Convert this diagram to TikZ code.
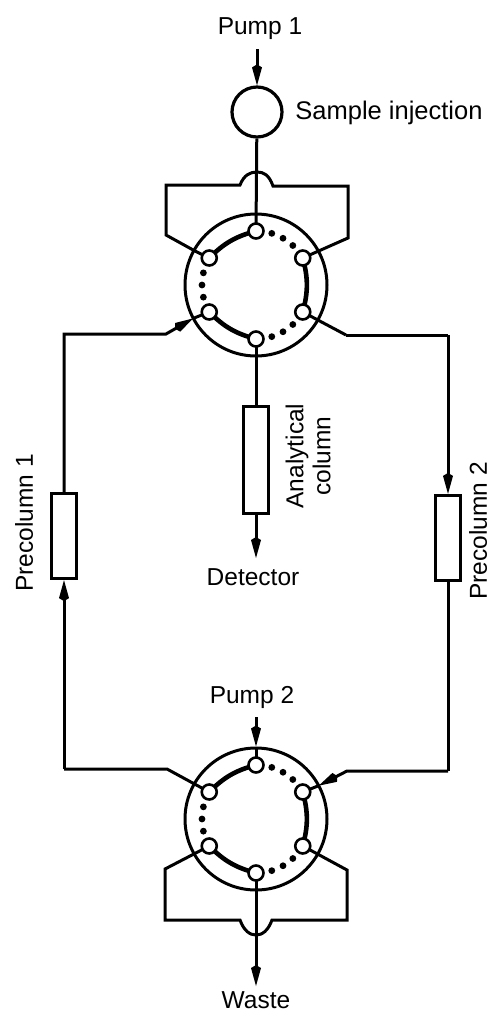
\documentclass[tikz,border=0pt]{standalone}
\usepackage{fontspec}
\setmainfont{Liberation Sans}
\usetikzlibrary{positioning,arrows.meta,calc}

\begin{document}
\begin{tikzpicture}[
    x=1pt,
    y=-1pt,
    font=\fontsize{24.5}{27}\selectfont,
    >={Kite[length=21pt,width=10pt,inset=3pt]},
    wire/.style={
        line width=3pt,
        line join=miter
    },
    flow/.style={
        wire,
        ->
    },
    valve/.style={
        draw,
        circle,
        minimum size=142pt,
        inner sep=0pt,
        line width=3pt
    },
    port/.style={
        draw,
        circle,
        fill=white,
        minimum size=15pt,
        inner sep=0pt,
        line width=2.6pt
    },
    passage/.style={
        line width=4.6pt
    },
    column/.style={
        draw,
        fill=white,
        minimum width=25pt,
        inner sep=0pt,
        line width=3.2pt
    },
    label/.style={
        inner sep=0pt
    }
]

\useasboundingbox (0,0) rectangle (491,1012);

% Sample loop and labels
\node[draw, circle, minimum size=50pt, inner sep=0pt, line width=3.2pt] (inject) at (257,112) {};
\node[label] (pump1) at (260,29) {Pump 1};
\node[label, font=\fontsize{25.5}{27}\selectfont] (sample) at (389,113) {Sample injection};
\node[label] (pump2) at (252,697) {Pump 2};
\node[label] (detector) at (253,577) {Detector};
\node[label] (waste) at (256,1000) {Waste};

% Columns
\node[column, minimum height=85pt] (pre1) at (64,536) {};
\node[column, minimum height=85pt] (pre2) at (448,538) {};
\node[column, minimum height=107pt] (analytical) at (256,460) {};
\node[label, rotate=90] (pre1label) at (24,523) {Precolumn 1};
\node[label, rotate=90] (pre2label) at (478,531) {Precolumn 2};
\node[label, rotate=90, align=center] (anlabel) at (308,456) {Analytical\\column};

% Free ends and corners of the tubing
\coordinate (pump1end) at (257,49);
\coordinate (detend) at (256,558);
\coordinate (pump2end) at (256,717);
\coordinate (wasteend) at (256,986);
\coordinate (leftA2) at (166,334);
\coordinate (leftB) at (64,769);
\coordinate (leftB2) at (167,769);
\coordinate (rightA) at (448,335);
\coordinate (rightA2) at (346,335);
\coordinate (rightB) at (448,771);
\coordinate (rightB2) at (347,771);

% Two six-port valves
\foreach \v/\cy in {top/285, bot/819} {
    \node[valve] (\v) at (256,\cy) {};
    % Ports
    \foreach \i/\a in {1/-90, 2/-150, 3/150, 4/90, 5/30, 6/-30} {
        \coordinate (\v c\i) at ([shift={(256,\cy)}]\a:54);
    }
    % Closed positions
    \foreach \a in {-73,-60,-47,167,180,193,47,60,73} {
        \fill ([shift={(256,\cy)}]\a:54) circle (3.4);
    }
    % Open positions
    \draw[passage] (\v c1) to[bend right=15] (\v c2);
    \draw[passage] (\v c3) to[bend right=15] (\v c4);
    \draw[passage] (\v c5) to[bend right=15] (\v c6);
}
\coordinate (topring) at ([shift={(256,285)}]152:71);
\coordinate (botring) at ([shift={(256,819)}]-28:71);

% Upper bypass
\coordinate (a1) at (195,251);
\coordinate (a2) at (166,235);
\coordinate (a3) at (166,185);
\coordinate (a4) at (240,185);
\coordinate (a5) at (273,186);
\coordinate (a6) at (348,186);
\coordinate (a7) at (348,238);
\draw[wire] (topc2) -- (a1) -- (a2) -- (a3) -- (a4)
    .. controls (244,175) and (250,172) .. (257,172)
    .. controls (264,172) and (269,175) .. (a5)
    -- (a6) -- (a7) -- (topc6);

% Lower bypass
\coordinate (b2) at (165,869);
\coordinate (b3) at (165,920);
\coordinate (b4) at (240,920);
\coordinate (b5) at (272,920);
\coordinate (b6) at (347,920);
\coordinate (b7) at (347,870);
\draw[wire] (botc3) -- (b2) -- (b3) -- (b4)
    .. controls (244,931) and (250,935) .. (256,935)
    .. controls (262,935) and (268,931) .. (b5)
    -- (b6) -- (b7) -- (botc5);

% Main line
\draw[flow] (pump1end) -- (inject);
\draw[wire] (inject) -- (topc1);
\draw[wire] (topc4) -- (analytical);
\draw[flow] (analytical) -- (detend);
\draw[flow] (pump2end) -- (bot.north);
\draw[wire] (bot.north) -- (botc1);
\draw[flow] (botc4) -- (wasteend);

% Precolumn lines
\draw[wire] (topc3) -- (topring);
\draw[flow] (pre1.north) |- (leftA2) -- (topring);
\draw[flow] (leftB) -- (pre1.south);
\draw[wire] (leftB) -- (leftB2) -- (botc2);
\draw[wire] (rightA2) -- (topc5);
\draw[wire] (rightA2) -- (rightA);
\draw[flow] (rightA) -- (pre2.north);
\draw[wire] (pre2.south) -- (rightB);
\draw[flow] (rightB) -- (rightB2) -- (botring);
\draw[wire] (botring) -- (botc6);

% Ports drawn over the tubing
\foreach \v in {top, bot} {
    \foreach \i in {1,...,6} {
        \node[port] (\v p\i) at (\v c\i) {};
    }
}

\end{tikzpicture}
\end{document}
